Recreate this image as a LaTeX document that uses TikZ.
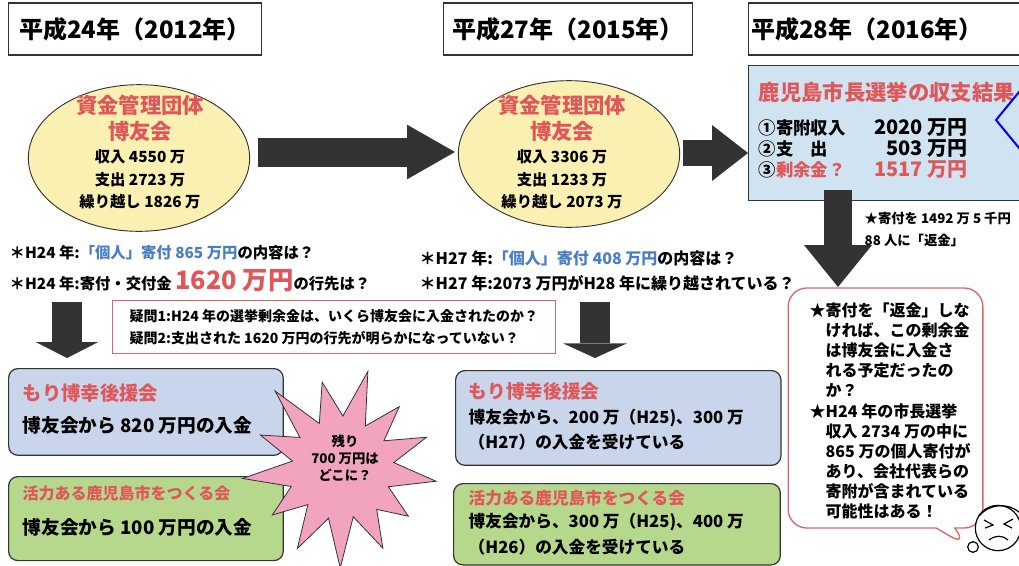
\documentclass[tikz,border=0pt]{standalone}
\usepackage{fontspec}
\setmainfont{Noto Sans CJK JP}
\usetikzlibrary{arrows.meta,shapes.geometric,shapes.callouts}

\definecolor{akamoji}{HTML}{E0575A}
\definecolor{aomoji}{HTML}{4A7EC4}
\definecolor{kiiro}{HTML}{FAF0B2}
\definecolor{mizuiro}{HTML}{CFE3F1}
\definecolor{usuao}{HTML}{C9D5EA}
\definecolor{midori}{HTML}{B6D88C}
\definecolor{momo}{HTML}{F2A3BF}
\definecolor{kuro}{HTML}{333333}
\definecolor{waku}{HTML}{D5676B}

\newcommand\fs[2]{\fontsize{#1}{#2}\selectfont}

\begin{document}
\begin{tikzpicture}[x=0.75pt,y=-0.75pt,
		nenbox/.style={draw=kuro,line width=0.9pt,minimum height=39pt,inner xsep=2pt,font=\bfseries\fs{18}{22}},
		daen/.style={ellipse,draw=kuro,line width=0.7pt,fill=kiiro,minimum width=166pt,minimum height=110pt},
		kado/.style={draw=kuro,line width=0.9pt,rounded corners=7pt,anchor=north west},
		moji/.style={anchor=west,font=\bfseries\fs{#1}{#1}},
		futoya/.style n args={3}{draw=kuro,line width=#1,-{Triangle[length=#2,width=#3,line width=0pt]}}]
	\useasboundingbox (0,0) rectangle (1019,565);

	\node[nenbox,minimum width=190pt] (nen24) at (135,29) {平成24年（2012年）};
	\node[nenbox,minimum width=187pt] (nen27) at (568,29) {平成27年（2015年）};
	\node[nenbox,anchor=west,text width=204pt,align=left] (nen28) at (748,29) {平成28年（2016年）};

	\foreach \nen/\cx/\cy/\tx/\nyu/\shi/\kuri in {24/139/158/140/4550/2723/1826,27/569/154/562/3306/1233/2073}{
		\node[daen] (kin\nen) at (\cx,\cy) {};
		\node[font=\bfseries\fs{16}{16},text=akamoji] (kin\nen-a) at (\tx,105) {資金管理団体};
		\node[font=\bfseries\fs{16}{16},text=akamoji] (kin\nen-b) at (\tx,131) {博友会};
		\node[font=\bfseries\fs{11.5}{11.5}] (kin\nen-c) at (\tx,157) {収入 \nyu{} 万};
		\node[font=\bfseries\fs{11.5}{11.5}] (kin\nen-d) at (\tx,180) {支出 \shi{} 万};
		\node[font=\bfseries\fs{11.5}{11.5}] (kin\nen-e) at (\tx,202) {繰り越し \kuri{} 万};
	}

	\coordinate (ya1s) at (258,152);
	\coordinate (ya1e) at (455,152);
	\draw[futoya={21.75pt}{36pt}{41pt}] (ya1s) -- (ya1e);

	\node[draw=kuro,line width=0.9pt,fill=mizuiro,anchor=north west,minimum width=212pt,minimum height=101pt] (kekka) at (748,65) {};
	\node[moji=16,text=akamoji] (kekkamei) at (754,92) {鹿児島市長選挙の収支結果};
	\node[moji=13] (kifu) at (754,128) {①寄附収入};
	\node[moji=13] (shishutsu) at (754,149) {②支　出};
	\node[moji=13] (joyo) at (754,170) {③\textcolor{akamoji}{剰余金？}};
	\node[moji=15,anchor=east] (kifugaku) at (972,128) {2020 万円};
	\node[moji=15,anchor=east] (shishutsugaku) at (972,149) {503 万円};
	\node[moji=15,anchor=east,text=akamoji] (joyogaku) at (972,170) {1517 万円};
	\draw[blue,line width=1.5pt] (1024,86) -- (996,120) -- (1024,154);

	\coordinate (ya2s) at (683,153);
	\coordinate (ya2e) at (748,153);
	\draw[futoya={19.5pt}{27pt}{42pt}] (ya2s) -- (ya2e);
	\coordinate (ya3s) at (838,190);
	\coordinate (ya3e) at (838,287);
	\draw[futoya={21pt}{31.5pt}{51pt}] (ya3s) -- (ya3e);
	\node[moji=10] (henkin1) at (860,218) {★寄付を 1492 万 5 千円};
	\node[moji=10] (henkin2) at (860,240) {88 人に「返金」};

	\node[moji=11.5] (q24a) at (5,253) {＊H24 年:\textcolor{aomoji}{「個人」寄付 865 万円}の内容は？};
	\node[moji=11.5] (q24b) at (5,281) {＊H24 年:寄付・交付金 {\color{akamoji}\fs{19}{19}1620 万円}の行先は？};
	\node[moji=12] (q27a) at (415,258) {＊H27 年:\textcolor{aomoji}{「個人」寄付 408 万円}の内容は？};
	\node[moji=12] (q27b) at (415,283) {＊H27 年:2073 万円がH28 年に繰り越されている？};

	\node[draw=waku,line width=0.8pt,anchor=north west,minimum width=332pt,minimum height=40pt,align=left,font=\bfseries\fs{10.5}{16.5}] (gimon) at (112,300) {疑問1:H24 年の選挙剰余金は、いくら博友会に入金されたのか？\\疑問2:支出された 1620 万円の行先が明らかになっていない？};

	\coordinate (ya4s) at (67,302);
	\coordinate (ya4e) at (67,358);
	\draw[futoya={22.5pt}{12pt}{47pt}] (ya4s) -- (ya4e);
	\coordinate (ya5s) at (595,302);
	\coordinate (ya5e) at (595,358);
	\draw[futoya={22.5pt}{11pt}{48pt}] (ya5s) -- (ya5e);

	\node[kado,fill=usuao,minimum width=206pt,minimum height=65pt] (mori24) at (8,368) {};
	\node[moji=14.5,text=akamoji] (mori24a) at (18,393) {もり博幸後援会};
	\node[moji=14] (mori24b) at (18,425) {博友会から 820 万円の入金};
	\node[kado,fill=midori,minimum width=206pt,minimum height=63pt] (katsu24) at (8,476) {};
	\node[moji=12,text=akamoji] (katsu24a) at (18,493) {活力ある鹿児島市をつくる会};
	\node[moji=14] (katsu24b) at (18,527) {博友会から 100 万円の入金};

	\begin{scope}[shift={(342,468)}]
		\draw[fill=momo,draw=kuro,line width=0.6pt] (-75:100)
			\foreach \a/\r in {-61/48,-47/84,-33/50,-20/90,-6/52,8/95,22/50,36/82,50/54,63/90,77/50,91/100,105/52,119/92,133/50,146/84,160/54,174/100,188/50,202/88,216/52,229/102,243/50,257/88,271/52}{-- (\a:\r)} -- cycle;
	\end{scope}
	\node[align=center,font=\bfseries\fs{10}{13}] (zan) at (345,458) {残り\\700 万円は\\どこに？};

	\node[kado,fill=usuao,minimum width=244pt,minimum height=71pt] (mori27) at (455,370) {};
	\node[moji=14,text=akamoji] (mori27a) at (464,391) {もり博幸後援会};
	\node[moji=12.5] (mori27b) at (464,418) {博友会から、200 万（H25)、300 万};
	\node[moji=12.5] (mori27c) at (464,442) {（H27）の入金を受けている};
	\node[kado,fill=midori,minimum width=245pt,minimum height=61pt] (katsu27) at (453,483) {};
	\node[moji=12.5,text=akamoji] (katsu27a) at (464,498) {活力ある鹿児島市をつくる会};
	\node[moji=12.5] (katsu27b) at (464,522) {博友会から、300 万（H25)、400 万};
	\node[moji=12.5] (katsu27c) at (464,547) {（H26）の入金を受けている};

	\node[rectangle callout,draw=waku,line width=1pt,fill=white,rounded corners=14pt,minimum width=146pt,minimum height=180pt,callout absolute pointer={(967,546)},callout pointer width=14pt] (memo) at (885.5,408) {};
	\foreach \yy/\xx/\gyou in {310/805/★寄付を「返金」しな,330/821/ければ、この剰余金,350/821/は博友会に入金さ,370/821/れる予定だったの,390/821/か？,411/805/★H24 年の市長選挙,431/821/収入 2734 万の中に,451/821/865 万の個人寄付が,471/821/あり、会社代表らの,491/821/寄附が含まれている,511/821/可能性はある！}
		\node[moji=12] (memo\yy) at (\xx,\yy) {\gyou};

	\draw[line width=0.9pt,fill=white] (998,528) circle[radius=17pt];
	\draw[line width=0.9pt] (979,516) .. controls (990,503) and (1008,503) .. (1019,512);
	\draw[line width=0.9pt] (984,520) -- (993,525) -- (985,528);
	\draw[line width=0.9pt] (1013,519) -- (1004,524) -- (1012,528);
	\draw[line width=0.9pt] (989,540) .. controls (995,535) and (1003,535) .. (1008,540);
	\draw[line width=0.9pt,fill=white] (973,547) circle[radius=4pt];
\end{tikzpicture}
\end{document}
